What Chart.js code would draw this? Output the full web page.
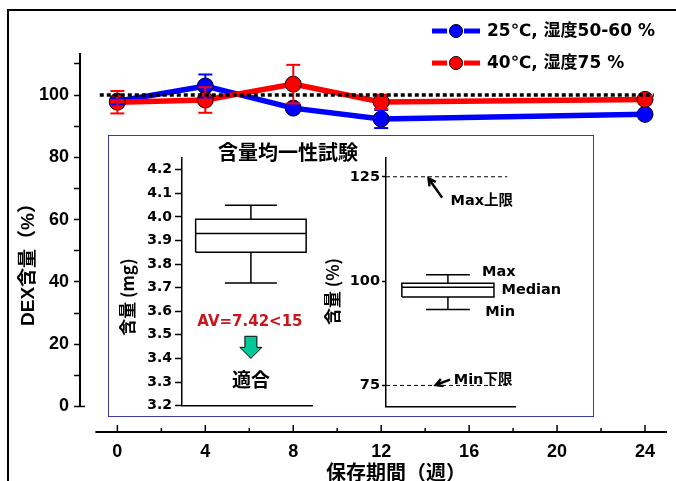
<!DOCTYPE html>
<html><head><meta charset="utf-8">
<script src="https://cdn.jsdelivr.net/npm/chart.js@4"></script>
<style>
html,body{margin:0;padding:0;background:#fff;}
#wrap{position:relative;width:676px;height:481px;overflow:hidden;background:#fff;}
#frame{position:absolute;left:7px;top:9px;width:700px;height:500px;border-left:2px solid #000;border-top:2px solid #000;}
canvas{position:absolute;}
#main{left:0;top:0;}
#insetBox{position:absolute;left:108px;top:135px;width:486px;height:282px;box-sizing:border-box;border:1.5px solid #3b3ba8;background:#fff;}
#mg,#pct{left:108px;top:135px;}
</style></head><body>
<div id="wrap">
<div id="frame"></div>
<canvas id="main" width="676" height="481"></canvas>
<div id="insetBox"></div>
<canvas id="mg" width="486" height="282"></canvas>
<canvas id="pct" width="486" height="282"></canvas>
</div>
<script>
// ---------- data ----------
const weeks = [0, 4, 8, 12, 24];
const blueVals = [98.0, 102.9, 95.8, 92.3, 93.8];
const blueErr = [1.0, 3.7, 1.0, 2.9, 1.0];
const redVals = [97.7, 98.4, 103.5, 97.8, 98.6];
const redErr = [3.6, 4.1, 6.2, 2.3, 1.0];
const seriesLabels = ['25℃, 湿度50-60 %', '40℃, 湿度75 %'];
const refValue = 100;
const refSpan = [-0.8, 24.4];
const xTicks = [0, 2, 4, 6, 8, 10, 12, 14, 16, 18, 20, 22, 24];
const yTicks = [0, 10, 20, 30, 40, 50, 60, 70, 80, 90, 100, 110];
const xTitle = '保存期間（週）';
const yTitle = 'DEX含量（%）';
// box plots: [min, q1, median, q3, max]
const mgBox = [3.72, 3.85, 3.93, 3.99, 4.05];
const mgTicks = [3.2, 3.3, 3.4, 3.5, 3.6, 3.7, 3.8, 3.9, 4.0, 4.1, 4.2];
const pctBox = [93.2, 96.2, 98.5, 99.5, 101.5];
const pctLimits = [75, 125];
const pctTicks = [75, 100, 125];
const avText = 'AV=7.42<15';

// ---------- style ----------
const LAT = '"Liberation Sans", "Noto Sans CJK JP", sans-serif';
const DJV = '"DejaVu Sans", "Noto Sans CJK JP", sans-serif';
const CJK = '"Noto Sans CJK JP", "Liberation Sans", sans-serif';
const BLUE = '#0000ff', RED = '#ff0000';
const MG_GEOM = {center: 5.3, half: 4.25, cap: 2.0};
const PCT_GEOM = {center: 4.8, half: 3.57, cap: 1.7};

function pts(xs, ys) { return xs.map((x, i) => ({x: x, y: ys[i]})); }
function errPts(xs, ys, es) {
  const out = [];
  xs.forEach((x, i) => { out.push({x: x, y: ys[i] - es[i]}, {x: x, y: ys[i] + es[i]}, {x: x, y: null}); });
  return out;
}
function boxPts(b, g) {
  const [mn, q1, md, q3, mx] = b, c = g.center, l = c - g.half, r = c + g.half;
  const gap = {x: c, y: null};
  return [
    {x: l, y: q1}, {x: r, y: q1}, {x: r, y: q3}, {x: l, y: q3}, {x: l, y: q1}, gap,
    {x: l, y: md}, {x: r, y: md}, gap,
    {x: c, y: q3}, {x: c, y: mx}, gap,
    {x: c - g.cap, y: mx}, {x: c + g.cap, y: mx}, gap,
    {x: c, y: q1}, {x: c, y: mn}, gap,
    {x: c - g.cap, y: mn}, {x: c + g.cap, y: mn}
  ];
}

// ---------- main chart ----------
const mainDecor = {
  id: 'mainDecor',
  afterDraw(chart) {
    const {ctx, chartArea: ca, scales: {x, y}} = chart;
    ctx.save();
    ctx.strokeStyle = '#000';
    ctx.lineWidth = 2;
    // y axis line
    ctx.beginPath();
    ctx.moveTo(ca.left, y.getPixelForValue(0));
    ctx.lineTo(ca.left, ca.top);
    ctx.stroke();
    ctx.lineWidth = 1.5;
    ctx.beginPath();
    ctx.moveTo(ca.left, y.getPixelForValue(0));
    ctx.lineTo(ca.left + 5, y.getPixelForValue(0));
    ctx.stroke();
    // x axis line
    ctx.lineWidth = 2;
    ctx.beginPath();
    ctx.moveTo(x.getPixelForValue(-1), ca.bottom);
    ctx.lineTo(x.getPixelForValue(25), ca.bottom);
    ctx.stroke();
    // x ticks (inward)
    ctx.lineWidth = 1.5;
    xTicks.forEach(v => {
      const px = x.getPixelForValue(v);
      const len = v % 4 === 0 ? 7 : 4;
      ctx.beginPath();
      ctx.moveTo(px, ca.bottom);
      ctx.lineTo(px, ca.bottom - len);
      ctx.stroke();
    });
    // axis titles
    ctx.fillStyle = '#000';
    ctx.textAlign = 'center'; ctx.textBaseline = 'middle';
    ctx.font = 'bold 20px ' + CJK;
    ctx.fillText(xTitle, 396, 472);
    ctx.save();
    ctx.translate(29, 260);
    ctx.rotate(-Math.PI / 2);
    ctx.font = 'bold 19px ' + LAT;
    ctx.fillText(yTitle, 0, 0);
    ctx.restore();
    // legend
    const items = [{c: BLUE, t: seriesLabels[0], y: 31}, {c: RED, t: seriesLabels[1], y: 63}];
    items.forEach(it => {
      ctx.strokeStyle = it.c;
      ctx.lineWidth = 5;
      ctx.beginPath(); ctx.moveTo(432, it.y); ctx.lineTo(447, it.y); ctx.stroke();
      ctx.beginPath(); ctx.moveTo(464, it.y); ctx.lineTo(480, it.y); ctx.stroke();
      ctx.beginPath(); ctx.arc(456, it.y, 6.5, 0, Math.PI * 2);
      ctx.fillStyle = it.c; ctx.fill();
      ctx.lineWidth = 1; ctx.strokeStyle = '#000'; ctx.stroke();
      ctx.fillStyle = '#000';
      ctx.font = 'bold 17px ' + DJV;
      ctx.textAlign = 'left'; ctx.textBaseline = 'middle';
      ctx.fillText(it.t, 487, it.y + 1);
    });
    ctx.restore();
  }
};

new Chart(document.getElementById('main'), {
  type: 'scatter',
  data: {
    datasets: [
      {label: seriesLabels[0], data: pts(weeks, blueVals), showLine: true, borderColor: BLUE, borderWidth: 5.5,
       pointRadius: 8, pointBackgroundColor: BLUE, pointBorderColor: '#000', pointBorderWidth: 1, order: 5},
      {label: seriesLabels[1], data: pts(weeks, redVals), showLine: true, borderColor: RED, borderWidth: 5.5,
       pointRadius: 8, pointBackgroundColor: RED, pointBorderColor: '#000', pointBorderWidth: 1, order: 4},
      {label: 'err1', data: errPts(weeks, blueVals, blueErr), showLine: true, borderColor: BLUE, borderWidth: 2,
       pointStyle: 'line', pointRadius: 7, pointBorderColor: BLUE, pointBorderWidth: 2, spanGaps: false, order: 3},
      {label: 'err2', data: errPts(weeks, redVals, redErr), showLine: true, borderColor: RED, borderWidth: 2,
       pointStyle: 'line', pointRadius: 7, pointBorderColor: RED, pointBorderWidth: 2, spanGaps: false, order: 2},
      {label: 'ref', data: refSpan.map(x => ({x: x, y: refValue})), showLine: true, borderColor: '#000', borderWidth: 3.5,
       borderDash: [4, 3], pointRadius: 0, order: 1}
    ]
  },
  options: {
    responsive: false, animation: false, events: [],
    layout: {padding: {left: 0, top: 53, right: 7, bottom: 0}},
    plugins: {legend: {display: false}, tooltip: {enabled: false}},
    scales: {
      x: {
        type: 'linear', min: -1.7, max: 25,
        afterBuildTicks: s => { s.ticks = xTicks.map(v => ({value: v})); },
        afterFit: s => { s.height = 49; },
        border: {display: false},
        grid: {display: false, drawTicks: false},
        ticks: {autoSkip: false, maxRotation: 0, padding: 9, color: '#000',
          font: {family: LAT, size: 18, weight: 'bold'},
          callback: v => (v % 4 === 0 ? String(v) : '')}
      },
      y: {
        type: 'linear', min: -8.2, max: 113.5,
        afterBuildTicks: s => { s.ticks = yTicks.map(v => ({value: v})); },
        afterFit: s => { s.width = 80; },
        border: {display: false},
        grid: {drawOnChartArea: false, drawTicks: true, tickLength: 6, tickColor: '#000', tickWidth: 1.5},
        ticks: {autoSkip: false, padding: 5, color: '#000',
          font: {family: LAT, size: 18, weight: 'bold'},
          callback: v => ((v % 20 === 0 && v <= 100) ? String(v) : '')}
      }
    }
  },
  plugins: [mainDecor]
});

// ---------- inset: content (mg) ----------
const mgDecor = {
  id: 'mgDecor',
  afterDraw(chart) {
    const {ctx, scales: {x, y}} = chart;
    ctx.save();
    ctx.fillStyle = '#000';
    ctx.textAlign = 'center'; ctx.textBaseline = 'middle';
    ctx.font = 'bold 20px ' + CJK;
    ctx.fillText('含量均一性試験', 180, 17);
    // axis title
    ctx.save();
    ctx.translate(20, y.getPixelForValue(3.66));
    ctx.rotate(-Math.PI / 2);
    ctx.font = 'bold 17px ' + CJK;
    ctx.fillText('含量 (mg)', 0, 0);
    ctx.restore();
    const cx = x.getPixelForValue(MG_GEOM.center);
    ctx.fillStyle = '#c8161d';
    ctx.font = 'bold 15px ' + DJV;
    ctx.fillText(avText, cx - 1, y.getPixelForValue(3.556));
    // green arrow
    const t = y.getPixelForValue(3.494), b = y.getPixelForValue(3.40), m = t + (b - t) * 0.5;
    ctx.beginPath();
    ctx.moveTo(cx - 6, t); ctx.lineTo(cx + 6, t); ctx.lineTo(cx + 6, m); ctx.lineTo(cx + 11, m);
    ctx.lineTo(cx, b); ctx.lineTo(cx - 11, m); ctx.lineTo(cx - 6, m); ctx.closePath();
    ctx.fillStyle = '#00c896'; ctx.fill();
    ctx.strokeStyle = '#000'; ctx.lineWidth = 1; ctx.stroke();
    ctx.fillStyle = '#000';
    ctx.font = 'bold 19px ' + CJK;
    ctx.fillText('適合', cx, y.getPixelForValue(3.31));
    ctx.restore();
  }
};

new Chart(document.getElementById('mg'), {
  type: 'scatter',
  data: {datasets: [{data: boxPts(mgBox, MG_GEOM), showLine: true, borderColor: '#000', borderWidth: 1.5,
    pointRadius: 0, spanGaps: false}]},
  options: {
    responsive: false, animation: false, events: [],
    layout: {padding: {left: 0, top: 23, right: 282, bottom: 0}},
    plugins: {legend: {display: false}, tooltip: {enabled: false}},
    scales: {
      x: {type: 'linear', min: 0, max: 10, afterFit: s => { s.height = 9; },
        border: {display: true, color: '#000', width: 1.5},
        grid: {display: true, drawOnChartArea: false, drawTicks: false}, ticks: {display: false}},
      y: {type: 'linear', min: 3.2, max: 4.25,
        afterBuildTicks: s => { s.ticks = mgTicks.map(v => ({value: v})); },
        afterFit: s => { s.width = 74; },
        border: {display: true, color: '#000', width: 1.5},
        grid: {drawOnChartArea: false, tickLength: 7, tickColor: '#000', tickWidth: 1.5},
        ticks: {autoSkip: false, padding: 3, color: '#000', font: {family: DJV, size: 14, weight: 'bold'},
          callback: v => v.toFixed(1)}}
    }
  },
  plugins: [mgDecor]
});

// ---------- inset: content (%) ----------
function arrow(ctx, x1, y1, x2, y2) {
  const a = Math.atan2(y2 - y1, x2 - x1), h = 8;
  ctx.beginPath();
  ctx.moveTo(x1, y1); ctx.lineTo(x2, y2);
  ctx.moveTo(x2 - h * Math.cos(a - 0.5), y2 - h * Math.sin(a - 0.5));
  ctx.lineTo(x2, y2);
  ctx.lineTo(x2 - h * Math.cos(a + 0.5), y2 - h * Math.sin(a + 0.5));
  ctx.stroke();
}
const pctDecor = {
  id: 'pctDecor',
  afterDraw(chart) {
    const {ctx, scales: {x, y}} = chart;
    ctx.save();
    ctx.fillStyle = '#000';
    // axis title
    ctx.save();
    ctx.textAlign = 'center'; ctx.textBaseline = 'middle';
    ctx.translate(225, y.getPixelForValue(97.5));
    ctx.rotate(-Math.PI / 2);
    ctx.font = 'bold 17px ' + CJK;
    ctx.fillText('含量 (%)', 0, 0);
    ctx.restore();
    ctx.textAlign = 'left'; ctx.textBaseline = 'middle';
    ctx.font = 'bold 14.5px ' + DJV;
    const notes = [['Max', 7.45, 102.2], ['Median', 8.95, 97.9], ['Min', 7.7, 92.5],
                   ['Max上限', 5.0, 119.2], ['Min下限', 5.25, 76.3]];
    notes.forEach(n => ctx.fillText(n[0], x.getPixelForValue(n[1]), y.getPixelForValue(n[2])));
    ctx.strokeStyle = '#000'; ctx.lineWidth = 2.5;
    arrow(ctx, x.getPixelForValue(4.35), y.getPixelForValue(120.0), x.getPixelForValue(3.3), y.getPixelForValue(124.6));
    arrow(ctx, x.getPixelForValue(4.96), y.getPixelForValue(76.4), x.getPixelForValue(3.85), y.getPixelForValue(75.1));
    ctx.restore();
  }
};

new Chart(document.getElementById('pct'), {
  type: 'scatter',
  data: {datasets: [
    {data: boxPts(pctBox, PCT_GEOM), showLine: true, borderColor: '#000', borderWidth: 1.5, pointRadius: 0, spanGaps: false},
    {data: [{x: 0, y: pctLimits[0]}, {x: 9.4, y: pctLimits[0]}, {x: 0, y: null}, {x: 0, y: pctLimits[1]}, {x: 9.4, y: pctLimits[1]}],
     showLine: true, borderColor: '#000', borderWidth: 1, borderDash: [4, 3], pointRadius: 0, spanGaps: false}
  ]},
  options: {
    responsive: false, animation: false, events: [],
    layout: {padding: {left: 200, top: 23, right: 79, bottom: 0}},
    plugins: {legend: {display: false}, tooltip: {enabled: false}},
    scales: {
      x: {type: 'linear', min: 0, max: 10, afterFit: s => { s.height = 9; },
        border: {display: true, color: '#000', width: 1.5},
        grid: {display: true, drawOnChartArea: false, drawTicks: false}, ticks: {display: false}},
      y: {type: 'linear', min: 70, max: 129.5,
        afterBuildTicks: s => { s.ticks = pctTicks.map(v => ({value: v})); },
        afterFit: s => { s.width = 78; },
        border: {display: true, color: '#000', width: 1.5},
        grid: {drawOnChartArea: false, tickLength: 4, tickColor: '#000', tickWidth: 1.5},
        ticks: {autoSkip: false, padding: 2, color: '#000', font: {family: DJV, size: 14.5, weight: 'bold'}}}
    }
  },
  plugins: [pctDecor]
});
</script>
</body></html>
